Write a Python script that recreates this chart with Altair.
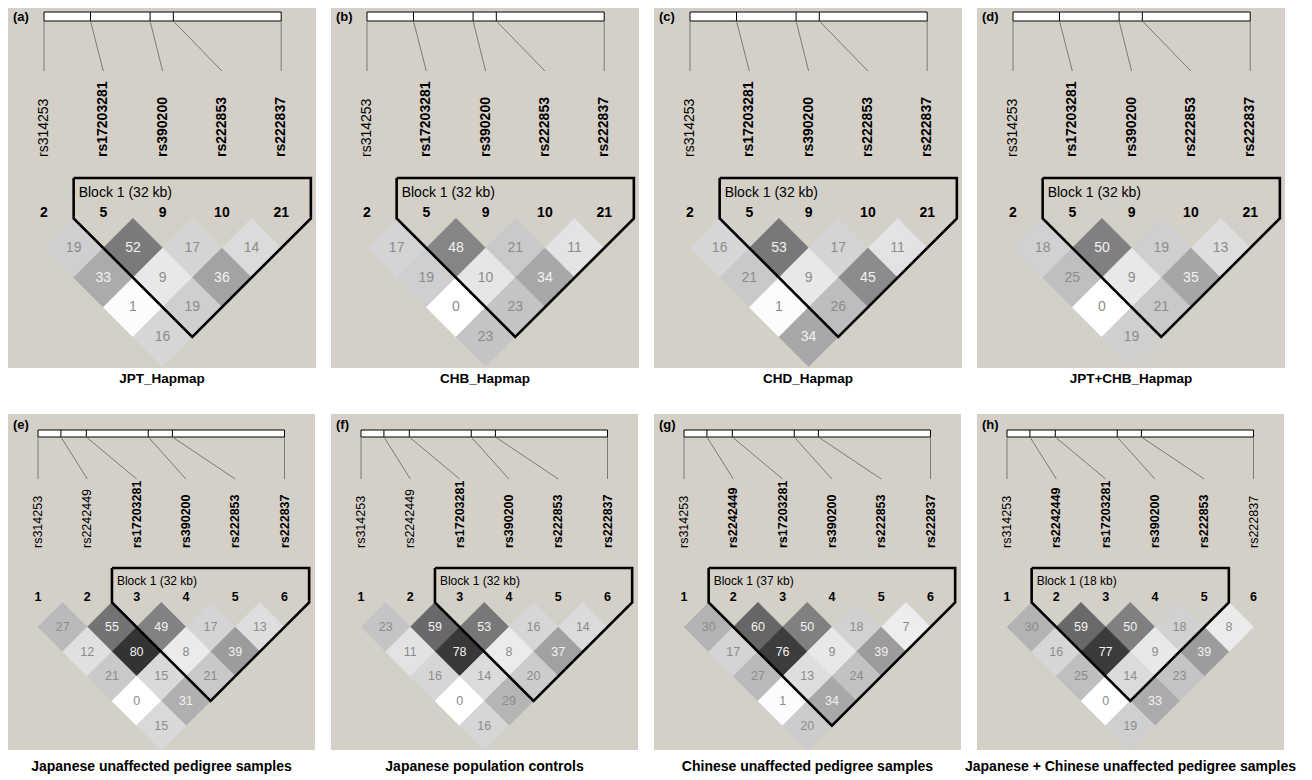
import altair as alt
import pandas as pd

BG = "#d4d0c8"
FONT = "Liberation Sans, Arial, sans-serif"

# ---------------- data ----------------
PANEL_TAGS = ["(a)", "(b)", "(c)", "(d)", "(e)", "(f)", "(g)", "(h)"]
PANEL_TITLES = [
    "JPT_Hapmap", "CHB_Hapmap", "CHD_Hapmap", "JPT+CHB_Hapmap",
    "Japanese unaffected pedigree samples", "Japanese population controls",
    "Chinese unaffected pedigree samples",
    "Japanese + Chinese unaffected pedigree samples",
]

SNPS_HAPMAP = ["rs314253", "rs17203281", "rs390200", "rs222853", "rs222837"]
KB_HAPMAP = [0.0, 7.8, 17.8, 21.7, 39.8]
NUM_HAPMAP = ["2", "5", "9", "10", "21"]

SNPS_SAMPLE = ["rs314253", "rs2242449", "rs17203281", "rs390200", "rs222853", "rs222837"]
KB_SAMPLE = [0.0, 3.7, 7.8, 17.8, 21.7, 39.8]
NUM_SAMPLE = ["1", "2", "3", "4", "5", "6"]

# r2 x 100, listed diagonal by diagonal (adjacent marker pairs first)
R2_A = [[19, 52, 17, 14], [33, 9, 36], [1, 19], [16]]
R2_B = [[17, 48, 21, 11], [19, 10, 34], [0, 23], [23]]
R2_C = [[16, 53, 17, 11], [21, 9, 45], [1, 26], [34]]
R2_D = [[18, 50, 19, 13], [25, 9, 35], [0, 21], [19]]
R2_E = [[27, 55, 49, 17, 13], [12, 80, 8, 39], [21, 15, 21], [0, 31], [15]]
R2_F = [[23, 59, 53, 16, 14], [11, 78, 8, 37], [16, 14, 20], [0, 29], [16]]
R2_G = [[30, 60, 50, 18, 7], [17, 76, 9, 39], [27, 13, 24], [1, 34], [20]]
R2_H = [[30, 59, 50, 18, 8], [16, 77, 9, 39], [25, 14, 23], [0, 33], [19]]
R2_ALL = [R2_A, R2_B, R2_C, R2_D, R2_E, R2_F, R2_G, R2_H]

BLOCK_START = [1, 1, 1, 1, 2, 2, 1, 1]
BLOCK_END = [4, 4, 4, 4, 5, 5, 5, 4]
BLOCK_LABEL = ["Block 1 (32 kb)"] * 6 + ["Block 1 (37 kb)", "Block 1 (18 kb)"]

# ---------------- layout ----------------
ROW1 = dict(w=308, h=406, gray=360, x0=36, sp=59.3, tag_y=9, bar=(4, 13),
            line_end=63, name_y=149, num_y=205, row1=240, blk_top=170,
            blk_txt=185, title_y=371, f_name=14, f_num=14, f_cell=14,
            f_blk=14, f_title=13.5, f_tag=13, spacing=15)
ROW2 = dict(w=307, h=356, gray=336, x0=30, sp=49.3, tag_y=11, bar=(16, 23),
            line_end=65, name_y=134, num_y=183, row1=213, blk_top=154,
            blk_txt=167, title_y=353, f_name=12.5, f_num=12.5, f_cell=12.5,
            f_blk=12, f_title=14, f_tag=13, spacing=16)


def make_panel(idx):
    five = idx < 4
    L = ROW1 if five else ROW2
    snps = SNPS_HAPMAP if five else SNPS_SAMPLE
    kb = KB_HAPMAP if five else KB_SAMPLE
    nums = NUM_HAPMAP if five else NUM_SAMPLE
    r2 = R2_ALL[idx]
    bs, be = BLOCK_START[idx], BLOCK_END[idx]
    n = len(snps)
    sp, W, H = L["sp"], L["w"], L["h"]
    hs = sp / 2

    xs = alt.Scale(domain=[-L["x0"] / sp, (W - L["x0"]) / sp], nice=False, zero=False)
    ys = alt.Scale(domain=[0, H], nice=False, zero=False, reverse=True)

    def X(f):
        return alt.X(f, type="quantitative", scale=xs, axis=None)

    def Y(f):
        return alt.Y(f, type="quantitative", scale=ys, axis=None)

    total = kb[-1] - kb[0]
    snp_df = pd.DataFrame({
        "i": list(range(n)),
        "snp": snps,
        "num": nums,
        "kbu": [(k - kb[0]) / total * (n - 1) for k in kb],
        "bold": [bs <= i <= be for i in range(n)],
    })
    snp_df["bt"] = L["bar"][0]
    snp_df["bb"] = L["bar"][1]
    snp_df["le"] = L["line_end"]
    snp_df["ny"] = L["name_y"]
    snp_df["numy"] = L["num_y"]

    bar_df = pd.DataFrame({"xa": [0], "xb": [n - 1], "ya": [L["bar"][0]], "yb": [L["bar"][1]]})

    cells = []
    for d, diag in enumerate(r2, start=1):
        for k, v in enumerate(diag):
            cells.append({"i": k, "j": k + d, "r2": v,
                          "xc": (2 * k + d) / 2,
                          "yc": L["row1"] + (d - 1) * hs})
    cell_df = pd.DataFrame(cells)

    dtop = L["row1"] - hs
    bottom = L["row1"] + (be - bs) * hs
    blk_df = pd.DataFrame({
        "k": [0, 1, 2, 3, 4, 5],
        "bx": [bs - 0.5, be + 0.5, be + 0.5, (bs + be) / 2, bs - 0.5, bs - 0.5],
        "by": [L["blk_top"], L["blk_top"], dtop, bottom, dtop, L["blk_top"]],
    })
    blk_lbl = pd.DataFrame({"x": [bs - 0.5], "y": [L["blk_txt"]], "t": [BLOCK_LABEL[idx]]})
    meta = pd.DataFrame({"tag": [PANEL_TAGS[idx]], "title": [PANEL_TITLES[idx]]})

    cs = alt.Scale(domain=[0, 100], range=["#ffffff", "#000000"], interpolate="rgb")

    bg = alt.Chart(meta).mark_rect(fill=BG).encode(
        x=alt.value(0), x2=alt.value(W), y=alt.value(0), y2=alt.value(L["gray"]))
    bar = alt.Chart(bar_df).mark_rect(fill="white", stroke="black", strokeWidth=1).encode(
        x=X("xa"), x2="xb", y=Y("ya"), y2="yb")
    inner = snp_df.iloc[1:-1]
    dividers = alt.Chart(inner).mark_rule(color="black", strokeWidth=1).encode(
        x=X("kbu"), y=Y("bt"), y2="bb")
    connectors = alt.Chart(snp_df).mark_rule(color="#7a7a7a", strokeWidth=1).encode(
        x=X("kbu"), y=Y("bb"), x2="i", y2="le")
    names_n = alt.Chart(snp_df[~snp_df["bold"]]).mark_text(
        angle=270, align="left", baseline="middle", font=FONT,
        fontSize=L["f_name"], color="black").encode(x=X("i"), y=Y("ny"), text="snp:N")
    names_b = alt.Chart(snp_df[snp_df["bold"]]).mark_text(
        angle=270, align="left", baseline="middle", font=FONT, fontWeight="bold",
        fontSize=L["f_name"], color="black").encode(x=X("i"), y=Y("ny"), text="snp:N")
    numbers = alt.Chart(snp_df).mark_text(
        align="center", baseline="middle", font=FONT, fontWeight="bold",
        fontSize=L["f_num"], color="black").encode(x=X("i"), y=Y("numy"), text="num:N")
    diamonds = alt.Chart(cell_df).mark_point(
        shape="diamond", filled=True, size=sp * sp, opacity=1, strokeWidth=0.6).encode(
        x=X("xc"), y=Y("yc"),
        color=alt.Color("r2:Q", scale=cs, legend=None),
        stroke=alt.Stroke("r2:Q", scale=cs, legend=None))
    cell_txt = alt.Chart(cell_df).mark_text(
        align="center", baseline="middle", font=FONT, fontSize=L["f_cell"]).encode(
        x=X("xc"), y=Y("yc"), text="r2:Q",
        color=alt.condition("datum.r2 > 30", alt.value("#f2f2f2"), alt.value("#8c8c8c")))
    block = alt.Chart(blk_df).mark_line(color="black", strokeWidth=2.6, strokeJoin="miter").encode(
        x=X("bx"), y=Y("by"), order="k:O")
    block_txt = alt.Chart(blk_lbl).mark_text(
        align="left", baseline="middle", dx=5, font=FONT, fontSize=L["f_blk"], color="black").encode(
        x=X("x"), y=Y("y"), text="t:N")
    tag = alt.Chart(meta).mark_text(
        align="left", baseline="middle", font=FONT, fontWeight="bold",
        fontSize=L["f_tag"], color="black").encode(
        x=alt.value(5), y=alt.value(L["tag_y"]), text="tag:N")
    title = alt.Chart(meta).mark_text(
        align="center", baseline="middle", font=FONT, fontWeight="bold",
        fontSize=L["f_title"], color="black").encode(
        x=alt.value(W / 2), y=alt.value(L["title_y"]), text="title:N")

    return alt.layer(bg, bar, dividers, connectors, names_n, names_b, numbers,
                     diamonds, cell_txt, block, block_txt, tag, title).properties(
        width=W, height=H)


panels = [make_panel(i) for i in range(8)]
row1 = alt.hconcat(*panels[:4], spacing=ROW1["spacing"], bounds="flush")
row2 = alt.hconcat(*panels[4:], spacing=ROW2["spacing"], bounds="flush")
chart = alt.vconcat(row1, row2, spacing=0).properties(
    padding=0, background="white").configure_view(stroke=None)

chart.save("out.html", embed_options={"renderer": "svg", "actions": False})
